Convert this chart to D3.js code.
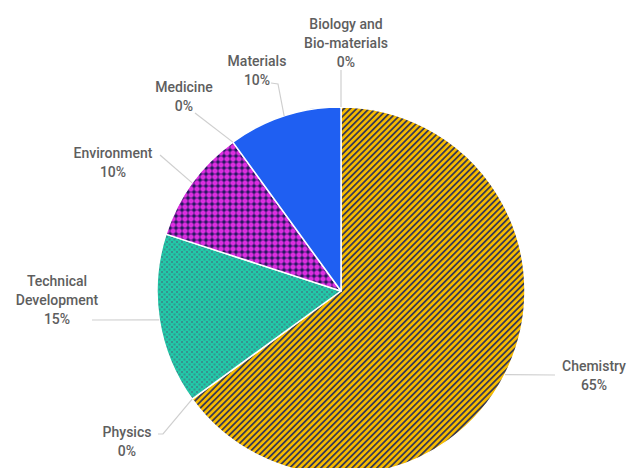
<!DOCTYPE html>
<html>
<head>
<meta charset="utf-8">
<script src="https://cdn.jsdelivr.net/npm/d3@7"></script>
<style>
  html, body { margin: 0; padding: 0; background: #fff; }
  svg { display: block; }
</style>
</head>
<body>
<svg id="chart" width="636" height="468"></svg>
<script>
// Share of projects by research field
const categories = ["Chemistry", "Physics", "Technical Development", "Environment", "Medicine", "Materials", "Biology and Bio-materials"];
const shares = [65, 0, 15, 10, 0, 10, 0];
const labelLines = [
  ["Chemistry"],
  ["Physics"],
  ["Technical", "Development"],
  ["Environment"],
  ["Medicine"],
  ["Materials"],
  ["Biology and", "Bio-materials"]
];

const width = 636, height = 468;
const cx = 341, cy = 291, radius = 184;
const lineGap = 19;

// Label placement: centre of the first text line and where the leader line ends
const labelLayout = {
  "Chemistry":                 { x: 594, y: 366, end: [555, 375] },
  "Physics":                   { x: 127, y: 432, end: [163, 434], tail: [158, 434] },
  "Technical Development":     { x: 57,  y: 281, end: [92, 320] },
  "Environment":               { x: 113, y: 153, end: [160, 155] },
  "Medicine":                  { x: 184, y: 87,  end: [195, 113] },
  "Materials":                 { x: 257, y: 61,  end: [278, 84], tail: [271, 83] },
  "Biology and Bio-materials": { x: 346, y: 24,  end: [341, 70] }
};

const svg = d3.select("#chart");
const defs = svg.append("defs");

// Chemistry: gold / navy diagonal stripes
const stripes = defs.append("pattern")
  .attr("id", "fill-chemistry")
  .attr("patternUnits", "userSpaceOnUse")
  .attr("width", 4.4).attr("height", 4.4)
  .attr("patternTransform", "rotate(45)");
stripes.append("rect").attr("width", 4.4).attr("height", 4.4).attr("fill", "#f6bb00");
stripes.append("rect").attr("width", 1.8).attr("height", 4.4).attr("fill", "#3a3a52");

// Technical Development: teal with a fine diagonal dot grid
const dots = defs.append("pattern")
  .attr("id", "fill-technical")
  .attr("patternUnits", "userSpaceOnUse")
  .attr("width", 5).attr("height", 5);
dots.append("rect").attr("width", 5).attr("height", 5).attr("fill", "#22c9a8");
dots.append("rect").attr("x", 0).attr("y", 0).attr("width", 2).attr("height", 2).attr("fill", "#35938f");
dots.append("rect").attr("x", 2.5).attr("y", 2.5).attr("width", 2).attr("height", 2).attr("fill", "#35938f");

// Environment: magenta gingham with navy checks
const gingham = defs.append("pattern")
  .attr("id", "fill-environment")
  .attr("patternUnits", "userSpaceOnUse")
  .attr("width", 6).attr("height", 6);
gingham.append("rect").attr("width", 6).attr("height", 6).attr("fill", "#dc2ee0");
gingham.append("rect").attr("x", 0).attr("y", 2).attr("width", 6).attr("height", 2).attr("fill", "#1c1858").attr("opacity", 0.35);
gingham.append("rect").attr("x", 2).attr("y", 0).attr("width", 2).attr("height", 6).attr("fill", "#1c1858").attr("opacity", 0.35);
gingham.append("rect").attr("x", 1.5).attr("y", 1.5).attr("width", 3).attr("height", 3).attr("fill", "#1c1858").attr("opacity", 0.85);

const fills = {
  "Chemistry": "url(#fill-chemistry)",
  "Physics": "#ff6d01",
  "Technical Development": "url(#fill-technical)",
  "Environment": "url(#fill-environment)",
  "Medicine": "#888888",
  "Materials": "#1f5ff2",
  "Biology and Bio-materials": "#46bdc6"
};

const data = categories.map((name, i) => ({ name, value: shares[i], lines: labelLines[i] }));

const pie = d3.pie().sort(null).value(d => d.value);
const arcs = pie(data);
const arc = d3.arc().innerRadius(0).outerRadius(radius);

const g = svg.append("g").attr("transform", `translate(${cx},${cy})`);

g.selectAll("path.slice")
  .data(arcs.filter(a => a.data.value > 0))
  .join("path")
  .attr("class", "slice")
  .attr("d", arc)
  .attr("fill", d => fills[d.data.name])
  .attr("stroke", "#ffffff")
  .attr("stroke-width", 1.5)
  .attr("stroke-linejoin", "round");

// Leader lines start on the rim at each slice's mid-angle
const rimPoint = a => {
  const mid = (a.startAngle + a.endAngle) / 2;
  return [cx + radius * Math.sin(mid), cy - radius * Math.cos(mid)];
};

const labels = svg.append("g");
arcs.forEach(a => {
  const lay = labelLayout[a.data.name];
  const pts = [rimPoint(a), lay.end];
  if (lay.tail) pts.push(lay.tail);
  labels.append("path")
    .attr("d", d3.line()(pts))
    .attr("fill", "none")
    .attr("stroke", "#cfcfcf")
    .attr("stroke-width", 1.2);

  const t = labels.append("text")
    .attr("text-anchor", "middle")
    .attr("font-family", "Roboto, 'Noto Sans', sans-serif")
    .attr("font-size", 14)
    .attr("font-weight", 500)
    .attr("fill", "#5e5e5e");
  const rows = a.data.lines.concat([`${a.data.value}%`]);
  rows.forEach((row, i) => {
    t.append("tspan")
      .attr("x", lay.x)
      .attr("y", lay.y + i * lineGap)
      .attr("dy", "0.35em")
      .text(row);
  });
});
</script>
</body>
</html>
